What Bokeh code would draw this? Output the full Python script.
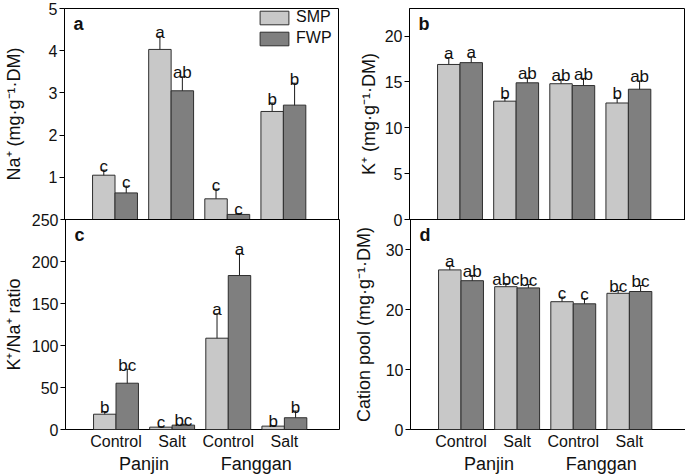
from bokeh.plotting import figure
from bokeh.models import (Range1d, FixedTicker, Whisker, TeeHead, LinearAxis,
                          ColumnDataSource, Legend, LegendItem, Label)
from bokeh.transform import dodge
from bokeh.layouts import row, column
from bokeh.embed import file_html
from bokeh.resources import INLINE
from bokeh.core.properties import value

# ---------------- data ----------------
sites = ["Panjin", "Panjin", "Fanggan", "Fanggan"]
treatments = ["Control", "Salt", "Control", "Salt"]
site_names = ["Panjin", "Fanggan"]
series_names = ["SMP", "FWP"]

na_smp = [1.05, 4.03, 0.49, 2.56]
na_smp_err = [0.12, 0.31, 0.23, 0.20]
na_fwp = [0.63, 3.05, 0.12, 2.71]
na_fwp_err = [0.16, 0.33, 0.02, 0.52]
na_smp_let = ["c", "a", "c", "b"]
na_fwp_let = ["c", "ab", "c", "b"]

k_smp = [16.9, 12.9, 14.8, 12.7]
k_smp_err = [0.75, 0.40, 0.45, 0.55]
k_fwp = [17.1, 14.9, 14.6, 14.2]
k_fwp_err = [0.63, 0.53, 0.78, 0.90]
k_smp_let = ["a", "b", "ab", "b"]
k_fwp_let = ["a", "ab", "ab", "ab"]

ratio_smp = [18.2, 2.8, 108.7, 4.0]
ratio_smp_err = [3.2, 0.5, 29.0, 0.7]
ratio_fwp = [55.1, 5.2, 183.3, 14.0]
ratio_fwp_err = [16.7, 1.0, 26.0, 8.0]
ratio_smp_let = ["b", "c", "a", "b"]
ratio_fwp_let = ["bc", "bc", "a", "b"]

cat_smp = [26.6, 23.8, 21.3, 22.7]
cat_smp_err = [0.70, 0.50, 0.75, 0.45]
cat_fwp = [24.8, 23.6, 20.95, 23.0]
cat_fwp_err = [0.85, 0.55, 0.85, 1.00]
cat_smp_let = ["a", "abc", "c", "bc"]
cat_fwp_let = ["ab", "bc", "c", "bc"]

# category slots on the x scale (1..n) and group centres derived from them
xpos = [i + 1 for i in range(len(treatments))]
group_pos = [sum(x for x, s in zip(xpos, sites) if s == g) /
             sum(1 for s in sites if s == g) for g in site_names]

# ---------------- style ----------------
FONT = "Liberation Sans"
SMP_COLOR = "#c8c8c8"
FWP_COLOR = "#7f7f7f"
EDGE = "#2e2e2e"
TXT = "#111111"
FW = 275
TOP_FH = 211
BOT_FH = 210
OVER = 9


def make_panel(smp, smp_err, fwp, fwp_err, smp_let, fwp_let, y_end, ticks,
               ylabel, lab_standoff, letter, show_x, legend, bl, br, bt, bb, fh):
    p = figure(x_range=Range1d(0.1, 5.0), y_range=Range1d(0, y_end),
               frame_width=FW, frame_height=fh, output_backend="svg",
               toolbar_location=None, min_border_left=bl, min_border_right=br,
               min_border_top=bt, min_border_bottom=bb,
               background_fill_alpha=0, border_fill_alpha=0)
    src = ColumnDataSource(dict(
        x=xpos,
        smp=smp, fwp=fwp,
        smp_hi=[v + e for v, e in zip(smp, smp_err)],
        smp_lo=[v - e for v, e in zip(smp, smp_err)],
        fwp_hi=[v + e for v, e in zip(fwp, fwp_err)],
        fwp_lo=[v - e for v, e in zip(fwp, fwp_err)],
        smp_let=smp_let, fwp_let=fwp_let,
    ))
    renderers = []
    for key, off, col in (("smp", -0.2, SMP_COLOR), ("fwp", 0.2, FWP_COLOR)):
        r = p.vbar(x=dodge("x", off), top=key, width=0.4, source=src,
                   fill_color=col, line_color=EDGE, line_width=1)
        renderers.append(r)
        w = Whisker(source=src, base=dodge("x", off),
                    upper=key + "_hi", lower=key + "_lo",
                    line_color="#1a1a1a", line_width=1,
                    upper_head=TeeHead(size=6, line_color="#1a1a1a", line_width=1),
                    lower_head=TeeHead(size=6, line_color="#1a1a1a", line_width=1))
        p.add_layout(w)
        p.text(x=dodge("x", off), y=key + "_hi", text=key + "_let",
               source=src, text_align="center", text_baseline="alphabetic",
               y_offset=-4, text_font=value(FONT), text_font_size="17px",
               text_color=TXT)

    p.xgrid.grid_line_color = None
    p.ygrid.grid_line_color = None
    p.outline_line_color = "black"
    p.outline_line_width = 1

    ya = p.yaxis[0]
    ya.ticker = FixedTicker(ticks=ticks)
    ya.axis_label = ylabel
    ya.axis_label_text_font = FONT
    ya.axis_label_text_font_size = "18px"
    ya.axis_label_text_font_style = "normal"
    ya.axis_label_text_color = TXT
    ya.axis_label_standoff = lab_standoff
    ya.major_label_text_font = FONT
    ya.major_label_text_font_size = "16px"
    ya.major_label_text_color = TXT
    ya.major_label_standoff = 2
    ya.major_tick_out = 5
    ya.major_tick_in = 0
    ya.minor_tick_line_color = None
    ya.axis_line_color = "black"
    ya.major_tick_line_color = "black"

    xa = p.xaxis[0]
    if show_x:
        xa.ticker = FixedTicker(ticks=xpos)
        xa.major_label_overrides = {x: t for x, t in zip(xpos, treatments)}
        xa.major_tick_line_color = None
        xa.minor_tick_line_color = None
        xa.major_tick_out = 0
        xa.major_tick_in = 0
        xa.axis_line_color = None
        xa.major_label_text_font = FONT
        xa.major_label_text_font_size = "16px"
        xa.major_label_text_color = TXT
        xa.major_label_standoff = 3
        ga = LinearAxis(ticker=FixedTicker(ticks=group_pos),
                        major_label_overrides={g: s for g, s in zip(group_pos, site_names)},
                        major_tick_line_color=None, minor_tick_line_color=None,
                        major_tick_out=0, major_tick_in=0,
                        axis_line_color=None, major_label_standoff=1,
                        major_label_text_font=FONT,
                        major_label_text_font_size="18px",
                        major_label_text_color=TXT)
        p.add_layout(ga, "below")
    else:
        xa.visible = False

    p.add_layout(Label(x=9, y=fh - 5, x_units="screen", y_units="screen",
                       text=letter, text_font=FONT, text_font_size="18px",
                       text_font_style="bold", text_baseline="top",
                       text_color=TXT))

    if legend:
        lg = Legend(items=[LegendItem(label=series_names[0], renderers=[renderers[0]]),
                           LegendItem(label=series_names[1], renderers=[renderers[1]])],
                    location=(192, fh - 39), glyph_width=36, glyph_height=17,
                    spacing=3, padding=0, margin=0, label_standoff=4,
                    label_text_font=FONT, label_text_font_size="16px",
                    label_text_color=TXT, border_line_color=None,
                    background_fill_alpha=0, label_height=17)
        p.add_layout(lg)
    return p


UNIT = "(mg\u00b7g\u207b\u00b9\u00b7DM)"
pa = make_panel(na_smp, na_smp_err, na_fwp, na_fwp_err, na_smp_let, na_fwp_let,
                5, [1, 2, 3, 4, 5], "Na\u207a " + UNIT, 22, "a",
                False, True, 63, 0, 8, OVER, TOP_FH)
pb = make_panel(k_smp, k_smp_err, k_fwp, k_fwp_err, k_smp_let, k_fwp_let,
                23, [0, 5, 10, 15, 20], "K\u207a " + UNIT, 3, "b",
                False, False, 70, 2, 8, OVER, TOP_FH)
pc = make_panel(ratio_smp, ratio_smp_err, ratio_fwp, ratio_fwp_err,
                ratio_smp_let, ratio_fwp_let, 250, [0, 50, 100, 150, 200, 250],
                "K\u207a/Na\u207a ratio", 5, "c", True, False, 63, 0, OVER, 44, BOT_FH)
pd_ = make_panel(cat_smp, cat_smp_err, cat_fwp, cat_fwp_err, cat_smp_let,
                 cat_fwp_let, 35, [0, 10, 20, 30],
                 "Cation pool " + UNIT, 9, "d", True, False,
                 70, 2, OVER, 44, BOT_FH)

layout = column(row(pa, pb), row(pc, pd_, margin=(-2 * OVER, 0, 0, 0)))

open("out.html", "w").write(file_html(layout, INLINE))
